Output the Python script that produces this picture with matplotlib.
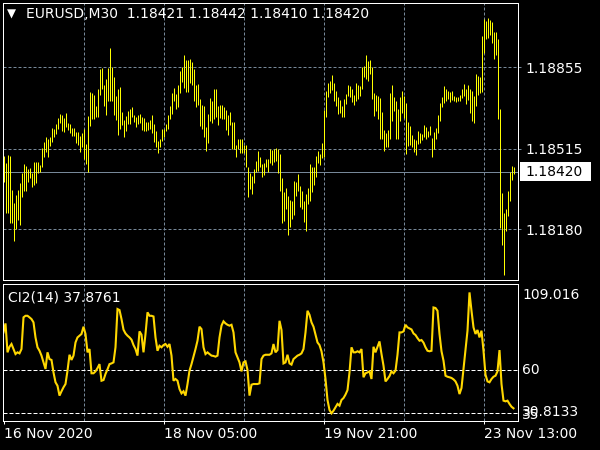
import numpy as np
import matplotlib
matplotlib.use("Agg")
import matplotlib.pyplot as plt
from matplotlib.patches import Rectangle
from matplotlib.transforms import blended_transform_factory

# EURUSD M30 bars (high / low) and the CI2(14) indicator, one value per bar
symbol = "EURUSD,M30"
last_ohlc = ["1.18421", "1.18442", "1.18410", "1.18420"]

high = [
    1.18487, 1.18458, 1.18490, 1.18486, 1.18344, 1.18291, 1.18323, 1.18344, 1.18375, 1.18416,
    1.18452, 1.18444, 1.18430, 1.18436, 1.18416, 1.18461, 1.18461, 1.18461, 1.18448, 1.18518,
    1.18544, 1.18566, 1.18555, 1.18563, 1.18601, 1.18597, 1.18619, 1.18644, 1.18661, 1.18658,
    1.18643, 1.18663, 1.18625, 1.18619, 1.18602, 1.18602, 1.18586, 1.18586, 1.18569, 1.18580,
    1.18597, 1.18536, 1.18652, 1.18752, 1.18749, 1.18738, 1.18694, 1.18763, 1.18847, 1.18851,
    1.18781, 1.18805, 1.18851, 1.18934, 1.18858, 1.18813, 1.18736, 1.18763, 1.18772, 1.18669,
    1.18636, 1.18652, 1.18675, 1.18680, 1.18688, 1.18658, 1.18650, 1.18655, 1.18661, 1.18650,
    1.18644, 1.18627, 1.18627, 1.18636, 1.18655, 1.18619, 1.18591, 1.18550, 1.18555, 1.18600,
    1.18600, 1.18619, 1.18655, 1.18694, 1.18747, 1.18769, 1.18744, 1.18780, 1.18838, 1.18858,
    1.18906, 1.18885, 1.18885, 1.18888, 1.18877, 1.18847, 1.18780, 1.18786, 1.18722, 1.18697,
    1.18694, 1.18608, 1.18661, 1.18727, 1.18713, 1.18763, 1.18763, 1.18694, 1.18699, 1.18697,
    1.18691, 1.18677, 1.18655, 1.18669, 1.18627, 1.18627, 1.18530, 1.18555, 1.18555, 1.18558,
    1.18530, 1.18530, 1.18439, 1.18414, 1.18402, 1.18433, 1.18463, 1.18505, 1.18483, 1.18452,
    1.18458, 1.18472, 1.18475, 1.18513, 1.18511, 1.18516, 1.18519, 1.18513, 1.18494, 1.18394,
    1.18336, 1.18352, 1.18319, 1.18302, 1.18300, 1.18380, 1.18377, 1.18411, 1.18361, 1.18341,
    1.18300, 1.18327, 1.18352, 1.18452, 1.18439, 1.18441, 1.18486, 1.18505, 1.18494, 1.18541,
    1.18677, 1.18758, 1.18791, 1.18799, 1.18824, 1.18791, 1.18758, 1.18730, 1.18719, 1.18694,
    1.18722, 1.18744, 1.18780, 1.18777, 1.18766, 1.18741, 1.18788, 1.18783, 1.18777, 1.18858,
    1.18860, 1.18908, 1.18880, 1.18885, 1.18858, 1.18749, 1.18741, 1.18736, 1.18727, 1.18669,
    1.18594, 1.18583, 1.18594, 1.18749, 1.18780, 1.18733, 1.18716, 1.18683, 1.18730, 1.18755,
    1.18736, 1.18708, 1.18627, 1.18611, 1.18572, 1.18558, 1.18552, 1.18588, 1.18583, 1.18577,
    1.18613, 1.18605, 1.18591, 1.18611, 1.18561, 1.18586, 1.18602, 1.18655, 1.18705, 1.18733,
    1.18777, 1.18766, 1.18758, 1.18752, 1.18758, 1.18736, 1.18730, 1.18730, 1.18741, 1.18766,
    1.18786, 1.18763, 1.18783, 1.18766, 1.18758, 1.18736, 1.18827, 1.18819, 1.18816, 1.18985,
    1.19055, 1.19046, 1.19060, 1.19052, 1.19044, 1.19002, 1.19002, 1.18974, 1.18683, 1.18333,
    1.18247, 1.18264, 1.18339, 1.18419, 1.18444, 1.18442,
]
low = [
    1.18379, 1.18247, 1.18247, 1.18208, 1.18205, 1.18133, 1.18180, 1.18219, 1.18200, 1.18314,
    1.18341, 1.18341, 1.18379, 1.18393, 1.18358, 1.18364, 1.18375, 1.18414, 1.18419, 1.18439,
    1.18483, 1.18502, 1.18483, 1.18527, 1.18544, 1.18563, 1.18577, 1.18600, 1.18622, 1.18591,
    1.18586, 1.18608, 1.18594, 1.18580, 1.18569, 1.18569, 1.18538, 1.18530, 1.18502, 1.18525,
    1.18475, 1.18452, 1.18419, 1.18611, 1.18641, 1.18641, 1.18647, 1.18650, 1.18738, 1.18763,
    1.18694, 1.18658, 1.18716, 1.18716, 1.18716, 1.18658, 1.18636, 1.18572, 1.18600, 1.18613,
    1.18566, 1.18591, 1.18619, 1.18619, 1.18647, 1.18627, 1.18608, 1.18619, 1.18622, 1.18594,
    1.18588, 1.18588, 1.18594, 1.18600, 1.18583, 1.18545, 1.18522, 1.18497, 1.18525, 1.18550,
    1.18566, 1.18588, 1.18600, 1.18641, 1.18661, 1.18716, 1.18683, 1.18688, 1.18749, 1.18794,
    1.18769, 1.18752, 1.18752, 1.18788, 1.18783, 1.18716, 1.18688, 1.18697, 1.18611, 1.18597,
    1.18566, 1.18508, 1.18538, 1.18633, 1.18622, 1.18641, 1.18647, 1.18616, 1.18644, 1.18638,
    1.18638, 1.18594, 1.18575, 1.18616, 1.18516, 1.18516, 1.18483, 1.18513, 1.18497, 1.18497,
    1.18497, 1.18439, 1.18314, 1.18350, 1.18327, 1.18375, 1.18419, 1.18425, 1.18439, 1.18400,
    1.18405, 1.18439, 1.18419, 1.18458, 1.18447, 1.18461, 1.18463, 1.18416, 1.18341, 1.18208,
    1.18214, 1.18266, 1.18155, 1.18191, 1.18222, 1.18239, 1.18319, 1.18341, 1.18275, 1.18264,
    1.18211, 1.18175, 1.18286, 1.18300, 1.18336, 1.18366, 1.18400, 1.18455, 1.18447, 1.18477,
    1.18483, 1.18650, 1.18730, 1.18749, 1.18761, 1.18716, 1.18694, 1.18661, 1.18666, 1.18647,
    1.18647, 1.18702, 1.18736, 1.18730, 1.18711, 1.18699, 1.18716, 1.18724, 1.18736, 1.18763,
    1.18813, 1.18805, 1.18797, 1.18827, 1.18722, 1.18652, 1.18675, 1.18638, 1.18558, 1.18558,
    1.18505, 1.18522, 1.18522, 1.18555, 1.18633, 1.18675, 1.18558, 1.18558, 1.18633, 1.18666,
    1.18644, 1.18494, 1.18527, 1.18530, 1.18525, 1.18502, 1.18491, 1.18536, 1.18538, 1.18552,
    1.18563, 1.18555, 1.18566, 1.18575, 1.18480, 1.18516, 1.18558, 1.18583, 1.18630, 1.18688,
    1.18705, 1.18716, 1.18724, 1.18711, 1.18719, 1.18713, 1.18711, 1.18713, 1.18716, 1.18727,
    1.18736, 1.18702, 1.18719, 1.18666, 1.18633, 1.18625, 1.18694, 1.18738, 1.18749, 1.18752,
    1.18916, 1.18972, 1.18977, 1.18991, 1.18955, 1.18891, 1.18908, 1.18641, 1.18186, 1.18117,
    1.17992, 1.18172, 1.18236, 1.18300, 1.18386, 1.18410,
]
ci2 = [
    81.7, 86.9, 70.2, 73.4, 75.0, 72.1, 69.2, 70.2, 69.6, 72.1,
    90.4, 91.3, 91.3, 90.4, 89.4, 87.5, 78.8, 73.1, 71.1, 68.3,
    64.4, 60.6, 70.2, 66.3, 65.8, 58.6, 52.9, 50.9, 45.2, 47.7,
    50.0, 51.9, 59.6, 68.8, 65.8, 68.3, 75.9, 78.8, 79.8, 80.8,
    85.0, 80.8, 70.2, 72.1, 58.1, 58.1, 59.2, 61.1, 63.4, 53.8,
    54.2, 57.7, 60.4, 63.4, 63.8, 64.4, 73.1, 95.2, 94.6, 89.4,
    83.3, 81.1, 79.8, 78.8, 77.5, 74.4, 72.1, 68.3, 82.3, 80.4,
    70.2, 80.8, 93.3, 91.3, 91.3, 90.9, 78.8, 71.1, 74.0, 73.1,
    74.4, 75.0, 73.4, 75.0, 68.3, 53.8, 54.8, 53.8, 49.0, 46.5,
    47.7, 45.2, 51.9, 59.6, 63.4, 67.7, 72.1, 76.9, 85.0, 83.6,
    73.1, 69.2, 70.2, 69.2, 68.3, 68.1, 67.7, 68.3, 78.8, 85.6,
    88.1, 86.9, 86.1, 85.6, 86.1, 81.7, 70.2, 67.3, 64.4, 59.2,
    64.4, 65.0, 60.0, 45.2, 51.5, 51.9, 51.9, 51.9, 52.3, 66.3,
    68.3, 68.8, 68.8, 68.8, 69.6, 75.0, 70.2, 71.5, 88.4, 83.1,
    63.8, 64.4, 68.8, 63.8, 63.1, 66.3, 67.3, 68.3, 68.8, 69.6,
    72.1, 81.7, 94.2, 91.9, 87.5, 85.0, 80.4, 75.9, 74.4, 70.8,
    64.4, 54.8, 42.7, 36.9, 35.0, 36.5, 38.4, 40.4, 39.4, 42.7,
    43.8, 45.8, 48.4, 58.6, 73.1, 70.2, 70.2, 70.8, 70.2, 72.1,
    55.8, 58.1, 58.6, 59.2, 54.8, 73.4, 70.2, 73.4, 76.5, 69.2,
    62.5, 53.4, 54.8, 56.5, 59.2, 58.1, 59.6, 68.8, 81.7, 81.7,
    82.3, 86.1, 84.6, 84.0, 83.4, 81.1, 80.2, 78.4, 76.9, 77.3,
    75.8, 73.1, 71.1, 70.8, 71.1, 96.1, 95.8, 94.2, 80.8, 70.8,
    65.4, 56.7, 56.1, 55.8, 55.4, 54.6, 53.4, 50.9, 46.1, 49.6,
    60.6, 72.1, 82.7, 104.8, 94.2, 84.6, 80.8, 83.1, 78.8, 82.7,
    71.1, 57.3, 53.4, 52.9, 54.8, 56.1, 56.7, 59.2, 71.5, 51.9,
    42.3, 41.9, 42.3, 40.4, 38.8, 37.8761,
]

time_labels = ["16 Nov 2020", "18 Nov 05:00", "19 Nov 21:00", "23 Nov 13:00"]
time_label_bars = [0, 80, 160, 240]
grid_bars = [40, 80, 120, 160, 200, 240]
price_levels = [1.18855, 1.18515, 1.18180]
last_price = 1.18420
ci_levels = [60, 35]
ci_max, ci_min = 109.016, 30.8133

GRID = "#778899"
BAR = "#FFFF00"
LINE = "#FFD700"
PX = 0.72  # one pixel in points at 100 dpi

W, H = 600, 450
fig = plt.figure(figsize=(6, 4.5), dpi=100, facecolor="black")


def px_axes(x0, y0, x1, y1):
    a = fig.add_axes([x0 / W, 1 - y1 / H, (x1 - x0) / W, (y1 - y0) / H])
    a.set_facecolor("black")
    for s in a.spines.values():
        s.set_color("white")
        s.set_linewidth(PX)
    return a


ax = px_axes(3, 3, 518, 280)
ax2 = px_axes(3, 284, 518, 421)

x = np.arange(len(high))
nb = len(high)

# --- price window ---
for k in grid_bars:
    ax.axvline(k, color=GRID, lw=PX, ls=(0, (3, 2)), zorder=0)
for p in price_levels:
    ax.axhline(p, color=GRID, lw=PX, ls=(0, (3, 2)), zorder=0)
ax.axhline(last_price, color=GRID, lw=PX, zorder=1)
ax.vlines(x, low, high, color=BAR, lw=PX, zorder=2)
ax.set_xlim(-0.25, nb + 1.25)
ax.set_ylim(1.179694, 1.191228)
ax.set_xticks([])
ax.yaxis.tick_right()
ax.set_yticks(price_levels)
ax.set_yticklabels([f"{p:.5f}" for p in price_levels])
ax.tick_params(axis="y", colors=GRID, labelcolor="white", length=2.2,
               width=PX, pad=3, labelsize=10)

ytr = blended_transform_factory(ax.transAxes, ax.transData)
ax.add_patch(Rectangle((1 + 2 / 515, last_price - 0.00039), 71 / 515, 0.00078,
                       transform=ytr, facecolor="white", edgecolor="none",
                       clip_on=False, zorder=5))
ax.text(1 + 7 / 515, last_price, f"{last_price:.5f}", transform=ytr, color="black",
        ha="left", va="center", fontsize=10, zorder=6, clip_on=False)

fig.text(11.5 / W, 1 - 14 / H, "\u25bc", color="white", fontsize=8.5, ha="center", va="center")
fig.text(26 / W, 1 - 14.5 / H, f"{symbol}  " + " ".join(last_ohlc),
         color="white", fontsize=10, ha="left", va="center")

# --- indicator window ---
for k in grid_bars:
    ax2.axvline(k, color=GRID, lw=PX, ls=(0, (3, 2)), zorder=0)
for lv in ci_levels:
    ax2.axhline(lv, color="white", lw=PX, ls=(0, (4, 2)), zorder=0)
ax2.plot(x, ci2, color=LINE, lw=1.5, solid_joinstyle="miter", zorder=2)
ax2.set_xlim(-0.25, nb + 1.25)
ax2.set_ylim(30.55, 109.65)
ax2.set_yticks([])
ax2.set_xticks(time_label_bars)
ax2.set_xticklabels(time_labels)
for lbl in ax2.get_xticklabels():
    lbl.set_ha("left")
ax2.tick_params(axis="x", colors="white", length=2.5, width=PX, pad=2, labelsize=10)

ytr2 = blended_transform_factory(ax2.transAxes, ax2.transData)
ax2.text(1 + 4 / 515, 0.92, f"{ci_max:g}", transform=ax2.transAxes, color="white",
         ha="left", va="center", fontsize=10, clip_on=False)
ax2.text(1 + 4 / 515, 60, "60", transform=ytr2, color="white",
         ha="left", va="center", fontsize=10, clip_on=False)
ax2.text(1 + 4 / 515, 0.068, f"{ci_min:g}", transform=ax2.transAxes, color="white",
         ha="left", va="center", fontsize=10, clip_on=False)
ax2.text(1 + 4 / 515, 0.045, "35", transform=ax2.transAxes, color="white",
         ha="left", va="center", fontsize=10, clip_on=False)
ax2.text(4.5 / 515, 0.905, f"CI2(14) {ci2[-1]:.4f}", transform=ax2.transAxes,
         color="white", ha="left", va="center", fontsize=10)

fig.savefig("out.png", dpi=100, facecolor="black")
